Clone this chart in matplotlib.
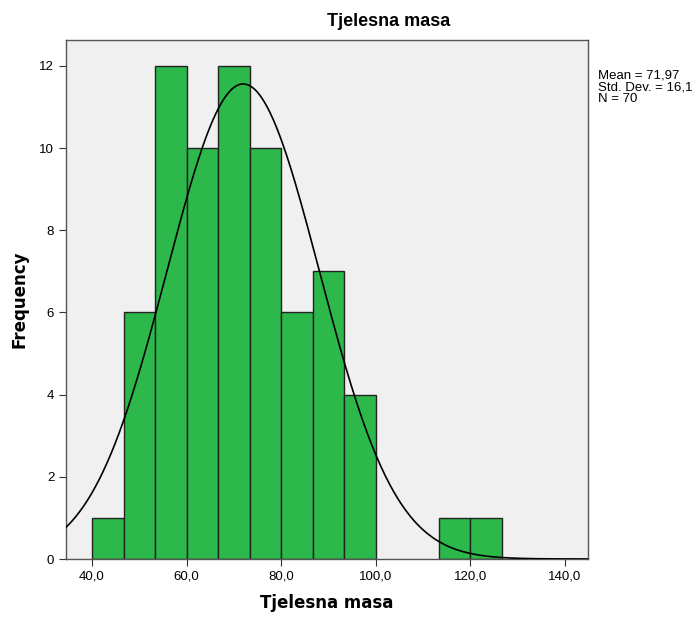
import numpy as np
import matplotlib
matplotlib.use("Agg")
import matplotlib.pyplot as plt

# Data
bin_start = 40.0
bin_width = 20.0 / 3.0
counts = [1, 6, 12, 10, 12, 10, 6, 7, 4, 0, 0, 1, 1]
mean_val = 71.97
std_val = 16.104
n_val = 70
xticks = [40, 60, 80, 100, 120, 140]
xtick_labels = ["40,0", "60,0", "80,0", "100,0", "120,0", "140,0"]
yticks = [0, 2, 4, 6, 8, 10, 12]

fig = plt.figure(figsize=(6.95, 6.17), dpi=100)
ax = fig.add_axes([66/695, 1-559/617, (588-66)/695, (559-40)/617])
ax.set_facecolor("#F0F0F0")

edges = bin_start + bin_width * np.arange(len(counts) + 1)
for i, c in enumerate(counts):
    if c > 0:
        ax.bar(edges[i], c, width=bin_width, align="edge", color="#2DB84B",
               edgecolor="#222222", linewidth=1.0, zorder=2)

xs = np.linspace(34.5, 145, 500)
ys = n_val * bin_width / (std_val * np.sqrt(2*np.pi)) * np.exp(-0.5*((xs-mean_val)/std_val)**2)
ax.plot(xs, ys, color="black", linewidth=1.2, zorder=3)

ax.set_xlim(34.5, 144.9)
ax.set_ylim(0, 12.63)
ax.set_xticks(xticks)
ax.set_xticklabels(xtick_labels, family="Liberation Sans")
ax.set_yticks(yticks)
ax.set_yticklabels([str(v) for v in yticks], family="Liberation Sans")
ax.tick_params(axis="both", labelsize=9.5, length=5, color="#333333")
for s in ax.spines.values():
    s.set_color("#555555")
    s.set_linewidth(1.0)

ax.set_xlabel("Tjelesna masa", fontsize=12, fontweight="bold", labelpad=8)
ax.set_ylabel("Frequency", fontsize=12, fontweight="bold", labelpad=8)
fig.text(389/695, 1-22/617, "Tjelesna masa", ha="center", va="center",
         fontsize=13, fontweight="bold", family="Liberation Sans")

fig.text(598/695, 1-87/617, "Mean = 71,97\nStd. Dev. = 16,1\nN = 70", ha="left", va="center",
         fontsize=9.5, family="Liberation Sans", linespacing=0.95)

fig.savefig("out.png", dpi=100)
